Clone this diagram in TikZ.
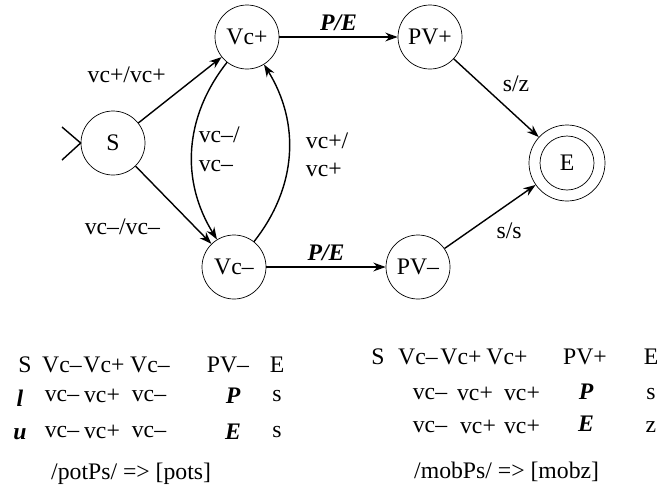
\documentclass[tikz,border=0pt]{standalone}
\usepackage{fontspec}
\setmainfont{Liberation Serif}
\usetikzlibrary{arrows.meta}
\begin{document}
\begin{tikzpicture}[x=0.02cm,y=-0.02cm,font=\fontsize{13.5}{16}\selectfont,
 st/.style={circle,draw,minimum size=64*0.02cm,inner sep=0pt},
 ar/.style={-{Stealth[length=7pt,width=5pt]},thick},
 bi/.style={font=\fontsize{13.5}{16}\selectfont\bfseries\itshape}]
\useasboundingbox (0,0) rectangle (663,498);
\node[st] (S) at (113,143) {S};
\node[st] (Vp) at (247,37) {Vc+};
\node[st] (PVp) at (430,37) {PV+};
\node[st,minimum size=76*0.02cm] (E) at (567,163) {};
\node[circle,draw,minimum size=54*0.02cm] (Ei) at (567,163) {E};
\node[st] (Vm) at (234,267) {Vc--};
\node[st] (PVm) at (418,267) {PV--};
\coordinate (a1) at (62,127); \coordinate (a2) at (62,160);
\draw[thick] (a1) -- (S.west) -- (a2);
\draw[ar] (S) -- node[pos=0.45,above left=2pt] {vc+/vc+} (Vp);
\draw[ar] (S) -- node[pos=0.5,below left=4pt] {vc--/vc--} (Vm);
\draw[ar] (Vp) to[bend right=35] node[align=left,right=0pt] {vc--/\\vc--} (Vm);
\draw[ar] (Vm) to[bend right=35] node[align=left,right=6pt] {vc+/\\vc+} (Vp);
\draw[ar] (Vp) -- node[bi,above] {P/E} (PVp);
\draw[ar] (Vm) -- node[bi,above] {P/E} (PVm);
\draw[ar] (PVp) -- node[above right] {s/z} (E);
\draw[ar] (PVm) -- node[below right] {s/s} (E);
% left table
\foreach \x/\t in {25/S,62/Vc--,104/Vc+,150/Vc--,228/PV--,277/E} \node (l1\x) at (\x,365) {\t};
\node[bi] (ll) at (20,398) {l};
\foreach \x/\t in {62/vc--,102/vc+,149/vc--,277/s} \node (l2\x) at (\x,396) {\t};
\node[bi] (lP) at (233,396) {P};
\node[bi] (lu) at (20,434) {u};
\foreach \x/\t in {62/vc--,102/vc+,149/vc--,277/s} \node (l3\x) at (\x,432) {\t};
\node[bi] (lE) at (233,432) {E};
\node[anchor=west] (lr) at (45,474) {/potPs/ => [pots]};
% right table
\foreach \x/\t in {378/S,418/Vc--,461/Vc+,507/Vc+,585/PV+,651/E} \node (r1\x) at (\x,357) {\t};
\foreach \x/\t in {430/vc--,475/vc+,522/vc+,651/s} \node (r2\x) at (\x,394) {\t};
\node[bi] (rP) at (586,392) {P};
\foreach \x/\t in {430/vc--,478/vc+,522/vc+,651/z} \node (r3\x) at (\x,427) {\t};
\node[bi] (rE) at (586,424) {E};
\node[anchor=west] (rr) at (408,472) {/mobPs/ => [mobz]};
\end{tikzpicture}
\end{document}
